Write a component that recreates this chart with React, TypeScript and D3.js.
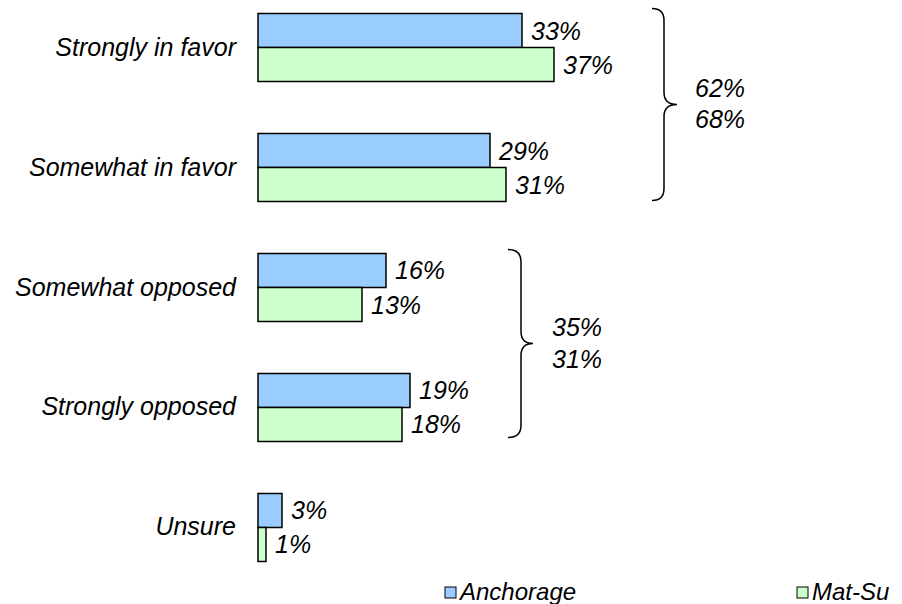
import React from "react";
import * as d3 from "d3";

const categories = ["Strongly in favor", "Somewhat in favor", "Somewhat opposed", "Strongly opposed", "Unsure"];
const anchorage = [33, 29, 16, 19, 3];
const matsu = [37, 31, 13, 18, 1];
const seriesNames = ["Anchorage", "Mat-Su"];
const groupTotals = [
  { from: 0, to: 1, anchorage: 62, matsu: 68 },
  { from: 2, to: 3, anchorage: 35, matsu: 31 },
];

const W = 902;
const H = 604;
const colors = ["#99CCFF", "#CCFFCC"];
const font = "'Liberation Sans', Arial, sans-serif";
const fs = 25;

export default function App() {
  const x = d3.scaleLinear().domain([0, 37]).range([258, 554]);
  const y = d3.scaleBand<string>().domain(categories).range([-12.5, 587.5]).paddingInner(0.4333).paddingOuter(0.2167);
  const sub = d3.scaleBand<string>().domain(seriesNames).range([0, y.bandwidth()]);
  const series = [anchorage, matsu];

  const braceLayout = [
    { x0: 652, x1: 664, x2: 677, topOff: -5, botOff: -1, tx: 695, d1: -17, d2: 14 },
    { x0: 508, x1: 521, x2: 533, topOff: -4, botOff: -4, tx: 552, d1: -16, d2: 16 },
  ];

  const bracePath = (x0: number, x1: number, x2: number, top: number, bot: number) => {
    const mid = (top + bot) / 2;
    const r = 12;
    return `M${x0},${top} Q${x1},${top} ${x1},${top + r} L${x1},${mid - r} Q${x1},${mid} ${x2},${mid} Q${x1},${mid} ${x1},${mid + r} L${x1},${bot - r} Q${x1},${bot} ${x0},${bot}`;
  };

  return (
    <svg width={W} height={H} style={{ position: "absolute", left: 0, top: 0, background: "#fff" }} fontFamily={font}>
      {categories.map((c, i) => (
        <g key={c}>
          <text x={236} y={(y(c) as number) + y.bandwidth() / 2 - 1} textAnchor="end" dominantBaseline="central" fontSize={fs} fontStyle="italic" fill="#000">
            {c}
          </text>
          {series.map((s, j) => {
            const by = (y(c) as number) + (sub(seriesNames[j]) as number);
            return (
              <g key={j}>
                <rect x={x(0)} y={by} width={x(s[i]) - x(0)} height={sub.bandwidth()} fill={colors[j]} stroke="#000" strokeWidth={1.5} />
                <text x={x(s[i]) + 9} y={by + sub.bandwidth() / 2} dominantBaseline="central" fontSize={fs} fontStyle="italic" fill="#000">
                  {s[i]}%
                </text>
              </g>
            );
          })}
        </g>
      ))}
      {groupTotals.map((g, k) => {
        const L = braceLayout[k];
        const top = (y(categories[g.from]) as number) + L.topOff;
        const bot = (y(categories[g.to]) as number) + y.bandwidth() + L.botOff;
        const mid = (top + bot) / 2;
        return (
          <g key={k}>
            <path d={bracePath(L.x0, L.x1, L.x2, top, bot)} fill="none" stroke="#000" strokeWidth={1.5} />
            <text x={L.tx} y={mid + L.d1} dominantBaseline="central" fontSize={fs} fontStyle="italic">{g.anchorage}%</text>
            <text x={L.tx} y={mid + L.d2} dominantBaseline="central" fontSize={fs} fontStyle="italic">{g.matsu}%</text>
          </g>
        );
      })}
      {seriesNames.map((n, j) => {
        const lx = [445, 797][j];
        return (
          <g key={n}>
            <rect x={lx} y={587} width={11} height={11} fill={colors[j]} stroke="#000" strokeWidth={1} />
            <text x={lx + 15} y={600} fontSize={24} fontStyle="italic">{n}</text>
          </g>
        );
      })}
    </svg>
  );
}
